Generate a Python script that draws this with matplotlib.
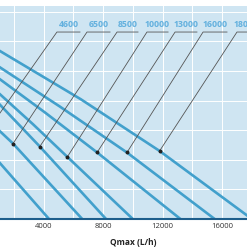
import numpy as np
import matplotlib
matplotlib.use("Agg")
import matplotlib.pyplot as plt

plt.rcParams["font.family"] = ["Open Sans", "DejaVu Sans"]

# pump curves: flow Q (L/h) vs head H (grid units)
curve_labels = ["4600", "6500", "8500", "10000", "13000", "16000", "18000"]
curve_q = [
    [1000, 4370],
    [1000, 1950, 6600],
    [1000, 3750, 8200],
    [1000, 3300, 5600, 10000],
    [1000, 4100, 7600, 13200],
    [1000, 5100, 9600, 15500],
    [1000, 6500, 11800, 18000],
]
curve_h = [
    [1.93, 0],
    [3.0, 2.55, 0],
    [3.9, 2.45, 0],
    [4.25, 3.2, 2.1, 0],
    [4.75, 3.6, 2.25, 0],
    [5.15, 3.8, 2.25, 0],
    [5.7, 4.05, 2.3, 0],
]

# label leader lines: underline left/right ends and the dot on the curve
label_q_left = [4900, 6920, 8940, 10950, 12840, 14720, 17000]
label_q_right = [6450, 8470, 10350, 12370, 14310, 16330, 18200]
label_h = 6.32
dot_q = [-300, 1950, 3750, 5600, 7600, 9610, 11800]
dot_h = [2.6, 2.55, 2.45, 2.1, 2.25, 2.25, 2.3]

x_ticks = [4000, 8000, 12000, 16000]

BG = "#cfe5f2"
CURVE = "#42a0cc"
TXT = "#62b0de"

fig = plt.figure(figsize=(2.47, 2.47), dpi=100)
ax = fig.add_axes([0, 28 / 247, 1, 213 / 247])
ax.set_facecolor(BG)

for q, h in zip(curve_q, curve_h):
    ax.plot(q, h, color=CURVE, lw=1.9, solid_capstyle="butt", zorder=3)

for ql, qr, dq, dh, lab in zip(label_q_left, label_q_right, dot_q, dot_h, curve_labels):
    ax.plot([dq, ql, qr], [dh, label_h, label_h], color="#555555", lw=0.6, zorder=4)
    ax.plot(dq, dh, "o", color="#222222", ms=1.8, zorder=5)
    ax.text((ql + qr) / 2, label_h + 0.1, lab, color=TXT, fontsize=6.3,
            fontweight="bold", ha="center", va="bottom", zorder=5)

ax.set_xlim(1075, 17674)
ax.set_ylim(0, 7.2)
ax.set_xticks(x_ticks)
ax.set_xticks(np.arange(2000, 18000, 4000), minor=True)
ax.set_yticks(np.arange(1, 8))
ax.set_yticklabels([])
ax.tick_params(axis="both", which="both", length=0)
ax.tick_params(axis="x", labelsize=5.5, labelcolor="#333333", pad=3)
ax.grid(True, which="both", color="white", lw=0.7)
ax.set_axisbelow(True)

for s in ["top", "left", "right"]:
    ax.spines[s].set_visible(False)
ax.spines["bottom"].set_color("#1d5e8c")
ax.spines["bottom"].set_linewidth(1.5)
ax.spines["bottom"].set_zorder(6)

ax.set_xlabel("Qmax (L/h)", fontsize=6, fontweight="bold", color="#222222")
ax.xaxis.set_label_coords(133 / 247, -0.09)

fig.savefig("out.png", dpi=100)
